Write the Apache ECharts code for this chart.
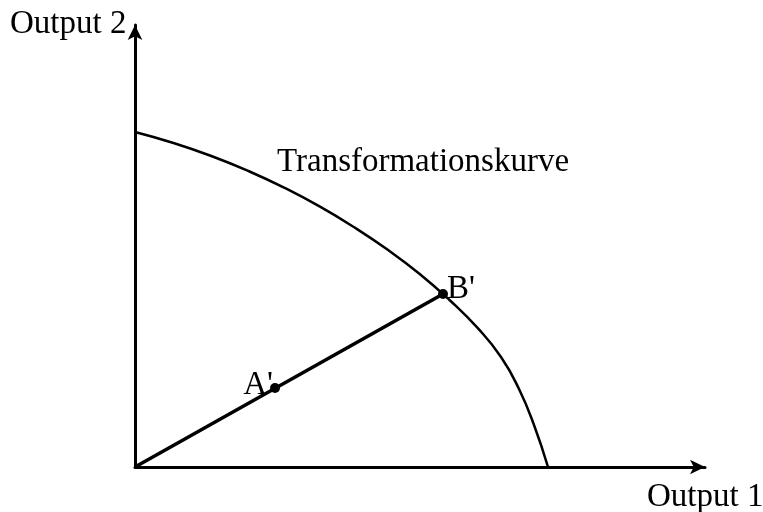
<!DOCTYPE html>
<html>
<head>
<meta charset="utf-8">
<script src="https://cdn.jsdelivr.net/npm/echarts@6/dist/echarts.min.js"></script>
<style>
  html, body { margin: 0; padding: 0; background: #fff; }
  #chart { width: 763px; height: 512px; }
</style>
</head>
<body>
<div id="chart"></div>
<script>
// Transformationskurve (Output 1 vs Output 2)
const curveX = [0, 38.5, 76.3, 113.4, 149.6, 185.0, 219.2, 252.4, 284.4, 314.5, 342.8, 366, 384, 399, 413];
const curveY = [335, 324.0, 311.0, 296.0, 279.1, 260.3, 239.7, 217.4, 193.3, 167.0, 138.8, 110, 78, 42, 0];
const rayX = [0, 308];
const rayY = [0, 173];
const pointNames = ["A'", "B'"];
const pointX = [140, 308];
const pointY = [79, 173];

const font = "Liberation Serif";
const fontSize = 33;
const chart = echarts.init(document.getElementById("chart"));

const curve = curveX.map((x, i) => [x, curveY[i]]);
const ray = rayX.map((x, i) => [x, rayY[i]]);
// A' label sits up-left of its dot, B' to the right
const labelPos = [
  { position: "left", distance: -3, offset: [0, -3] },
  { position: "right", distance: -1, offset: [0, -5] },
];
const points = pointX.map((x, i) => ({
  name: pointNames[i],
  value: [x, pointY[i]],
  label: labelPos[i],
}));

const axisCommon = {
  type: "value",
  min: 0,
  axisLine: {
    show: true,
    symbol: ["none", "arrow"],
    symbolSize: [11, 15],
    lineStyle: { color: "#000", width: 3 },
  },
  axisTick: { show: false },
  axisLabel: { show: false },
  splitLine: { show: false },
};

chart.setOption({
  backgroundColor: "#ffffff",
  animation: false,
  grid: { left: 135, right: 58, top: 25, bottom: 45 },
  xAxis: Object.assign({}, axisCommon, { max: 570 }),
  yAxis: Object.assign({}, axisCommon, { max: 442 }),
  series: [
    {
      type: "line",
      data: curve,
      smooth: 0.5,
      symbol: "none",
      lineStyle: { color: "#000", width: 2.5 },
      z: 3,
    },
    {
      type: "line",
      data: ray,
      symbol: "none",
      lineStyle: { color: "#000", width: 3.5 },
      z: 4,
    },
    {
      type: "scatter",
      data: points,
      symbolSize: 10,
      itemStyle: { color: "#000", opacity: 1 },
      emphasis: { disabled: true },
      z: 5,
      label: {
        show: true,
        formatter: "{b}",
        fontFamily: font,
        fontSize: fontSize,
        color: "#000",
        opacity: 1,
      },
    },
  ],
  graphic: [
    {
      type: "text",
      left: 10,
      top: 8,
      style: { text: "Output 2", font: fontSize + "px " + font, fill: "#000" },
    },
    {
      type: "text",
      left: 647,
      top: 481,
      style: { text: "Output 1", font: fontSize + "px " + font, fill: "#000" },
    },
    {
      type: "text",
      left: 277,
      top: 146,
      style: { text: "Transformationskurve", font: fontSize + "px " + font, fill: "#000" },
    },
  ],
});
</script>
</body>
</html>
